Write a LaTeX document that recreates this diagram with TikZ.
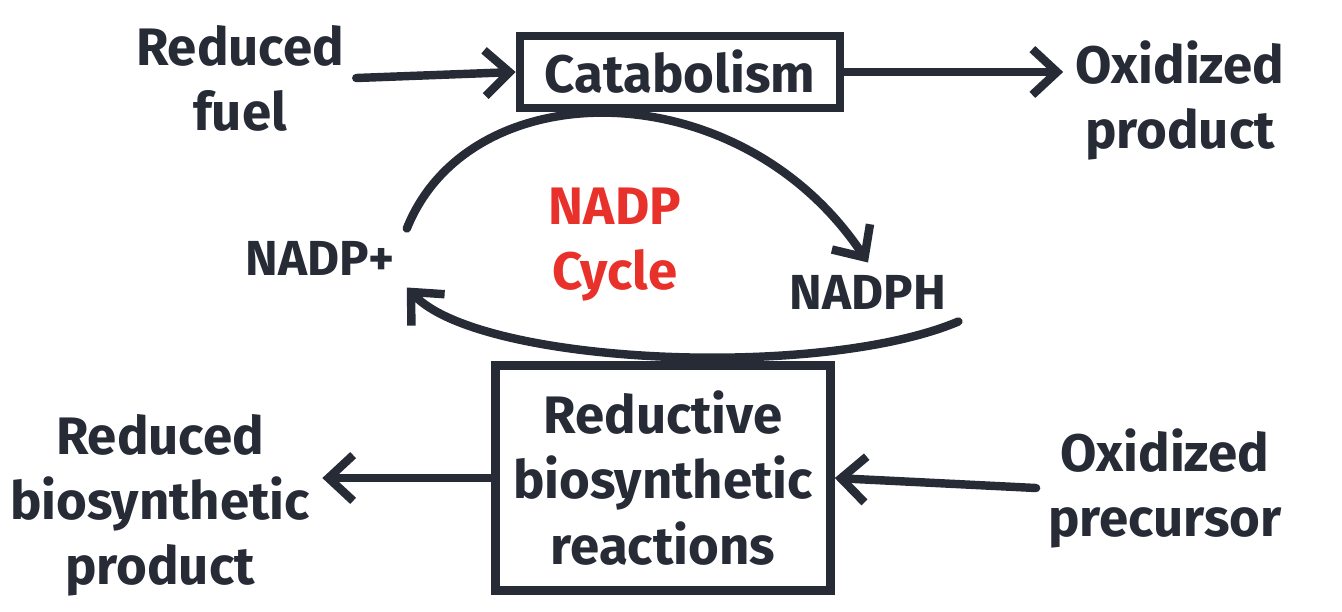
\documentclass[tikz,border=0pt]{standalone}
\usepackage{fontspec}
\setmainfont{Fira Sans}
\usetikzlibrary{positioning, arrows.meta}
\definecolor{MarkerInk}{HTML}{262B36}
\definecolor{MarkerRed}{HTML}{E8312A}

\begin{document}
\begin{tikzpicture}[x=0.01cm, y=-0.01cm,
  ink/.style={draw=MarkerInk, line width=2.4pt, line cap=round},
  flow/.style={ink, -{Straight Barb[length=7pt, width=13pt]}},
  lab/.style={text=MarkerInk, font=\fontsize{15}{18.5}\selectfont\bfseries, align=center},
  box/.style={ink, rectangle, inner sep=4pt},
]
  \useasboundingbox (0,0) rectangle (1342,611);

  % Top row
  \node[lab] (fuel) at (240,78) {Reduced\\fuel};
  \node[lab, box, minimum width=3.2cm, minimum height=0.65cm] (cat) at (680,72) {Catabolism};
  \node[lab] (oxprod) at (1180,100) {Oxidized\\product};

  % Cycle
  \node[lab, font=\fontsize{14}{17}\selectfont\bfseries] (nadp) at (320,258) {NADP+};
  \node[lab, font=\fontsize{14}{17}\selectfont\bfseries] (nadph) at (868,292) {NADPH};
  \node[lab, text=MarkerRed] (cycle) at (615,245) {NADP\\Cycle};

  % Bottom row
  \node[lab, box, minimum width=3.35cm, minimum height=2.25cm] (rbr) at (663,478) {Reductive\\biosynthetic\\reactions};
  \node[lab] (rprod) at (160,505) {Reduced\\biosynthetic\\product};
  \node[lab] (prec) at (1165,488) {Oxidized\\precursor};

  % Arrows
  \draw[flow] (fuel.east) -- (cat.west);
  \draw[flow] (cat.east) -- (oxprod.west |- cat.east);
  \draw[flow] (nadp.north east) .. controls (470,70) and (740,70) .. (nadph.north);
  \draw[flow] (nadph.south east) .. controls (820,380) and (480,365) .. (nadp.south east);
  \draw[flow] (rbr.west) -- (rprod.east |- rbr.west);
  \draw[flow] (prec.west) -- (rbr.east);
\end{tikzpicture}
\end{document}
